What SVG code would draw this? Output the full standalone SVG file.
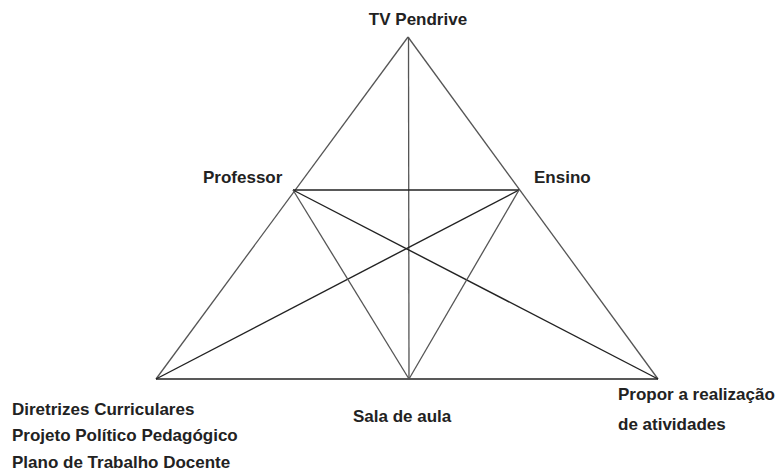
<svg xmlns="http://www.w3.org/2000/svg" width="777" height="472" viewBox="0 0 777 472">
<style>
.lbl{font-family:"Liberation Sans",Arial,sans-serif;font-weight:bold;font-size:17px;fill:#222}
.dk{stroke:#222;stroke-width:1.4;fill:none}
.lt{stroke:#555;stroke-width:1.3;fill:none}
</style>
<rect width="777" height="472" fill="#fff"/>
<g id="connectors">
<line class="lt" x1="408" y1="37" x2="156" y2="379"/>
<line class="lt" x1="408" y1="37" x2="658" y2="379"/>
<line class="dk" x1="156" y1="379" x2="658" y2="379"/>
<line class="lt" x1="408.5" y1="37" x2="409" y2="379"/>
<line class="dk" x1="293" y1="190" x2="519" y2="190"/>
<line class="dk" x1="293" y1="190" x2="658" y2="379"/>
<line class="dk" x1="519" y1="190" x2="156" y2="379"/>
<line class="lt" x1="293" y1="190" x2="409" y2="379"/>
<line class="lt" x1="519" y1="190" x2="409" y2="379"/>
</g>
<g id="tv"><text class="lbl" x="418" y="25" text-anchor="middle">TV Pendrive</text></g>
<g id="professor"><text class="lbl" x="203" y="183">Professor</text></g>
<g id="ensino"><text class="lbl" x="534" y="183">Ensino</text></g>
<g id="diretrizes">
<text class="lbl" x="12" y="415">Diretrizes Curriculares</text>
<text class="lbl" x="12" y="441">Projeto Político Pedagógico</text>
<text class="lbl" x="12" y="468">Plano de Trabalho Docente</text>
</g>
<g id="sala"><text class="lbl" x="353" y="422">Sala de aula</text></g>
<g id="propor">
<text class="lbl" x="618" y="400">Propor a realização</text>
<text class="lbl" x="618" y="430">de atividades</text>
</g>
</svg>
